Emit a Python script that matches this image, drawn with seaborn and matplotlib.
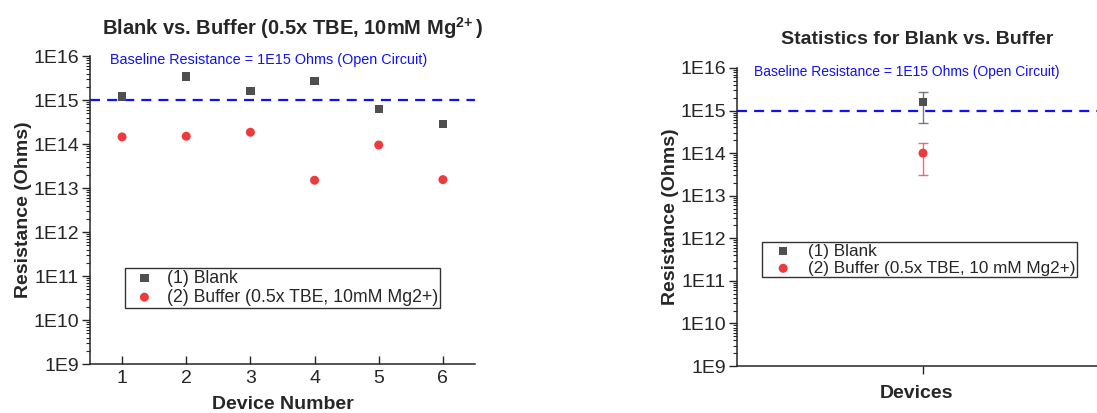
import numpy as np
import pandas as pd
import matplotlib
matplotlib.use("Agg")
import matplotlib.pyplot as plt
import matplotlib.ticker as mticker
import seaborn as sns

# values
devices = [1, 2, 3, 4, 5, 6]
blank = [1.2e15, 3.4e15, 1.6e15, 2.7e15, 6.3e14, 2.8e14]
buffer = [1.45e14, 1.5e14, 1.85e14, 1.5e13, 9.5e13, 1.55e13]

stat_labels = ["(1) Blank", "(2) Buffer (0.5x TBE, 10 mM Mg2+)"]
stat_mean = [1.6e15, 1.0e14]
stat_err = [1.1e15, 0.7e14]

baseline = 1e15
baseline_text = "Baseline Resistance = 1E15 Ohms (Open Circuit)"
y_exponents = [9, 10, 11, 12, 13, 14, 15, 16]

blank_color = "#4f4f4f"
buffer_color = "#ee3a3c"
line_blue = "#1010ff"

sns.set_style("ticks")
plt.rcParams["font.family"] = ["Liberation Sans", "DejaVu Sans"]
plt.rcParams["mathtext.fontset"] = "custom"
plt.rcParams["mathtext.rm"] = "Liberation Sans"
plt.rcParams["mathtext.bf"] = "Liberation Sans:bold"


def style_yaxis(ax):
    ax.set_yscale("log")
    ax.set_ylim(1e9, 1e16)
    major = [10.0 ** e for e in y_exponents]
    minor = [m * 10.0 ** e for e in y_exponents[:-1] for m in range(2, 10)]
    ax.yaxis.set_major_locator(mticker.FixedLocator(major))
    ax.yaxis.set_major_formatter(mticker.FixedFormatter([f"1E{e}" for e in y_exponents]))
    ax.yaxis.set_minor_locator(mticker.FixedLocator(minor))
    ax.yaxis.set_minor_formatter(mticker.NullFormatter())
    ax.tick_params(axis="y", which="major", direction="out", length=6, width=1,
                   labelsize=14, pad=2)
    ax.tick_params(axis="y", which="minor", direction="out", length=3, width=0.8)
    ax.set_ylabel("Resistance (Ohms)", fontsize=14, fontweight="bold", labelpad=1)
    for s in ["top", "right"]:
        ax.spines[s].set_visible(False)
    for s in ["left", "bottom"]:
        ax.spines[s].set_linewidth(1.1)


fig = plt.figure(figsize=(10.97, 4.13), dpi=100)
ax1 = fig.add_axes([0.082, 0.1186, 0.351, 0.7458])
ax2 = fig.add_axes([0.6718, 0.1138, 0.3282, 0.7216])

# left panel: individual devices
df = pd.DataFrame({"device": devices, "blank": blank, "buffer": buffer})
sns.scatterplot(data=df, x="device", y="blank", ax=ax1, marker="s", s=36,
                color=blank_color, edgecolor="none", label="(1) Blank", zorder=3)
sns.scatterplot(data=df, x="device", y="buffer", ax=ax1, marker="o", s=42,
                color=buffer_color, edgecolor="none",
                label="(2) Buffer (0.5x TBE, 10mM Mg2+)", zorder=3)
style_yaxis(ax1)
ax1.set_xlim(0.5, 6.5)
ax1.set_xticks(devices)
ax1.tick_params(axis="x", direction="in", length=6, width=1, labelsize=14, pad=4)
ax1.set_xlabel("Device Number", fontsize=14, fontweight="bold", labelpad=7)
ax1.axhline(baseline, color=line_blue, lw=1.6, ls=(0, (4.5, 3.2)), zorder=2)
ax1.text(0.052, 0.987, baseline_text, transform=ax1.transAxes, color=line_blue,
         fontsize=10.4, ha="left", va="center")
ax1.set_title(r"Blank vs. Buffer (0.5x TBE, 10mM Mg$^{\mathbf{2\!+}}$)",
              fontsize=14.5, fontweight="bold", pad=15, x=0.525)
leg = ax1.legend(loc="upper left", bbox_to_anchor=(0.091, 0.312), borderaxespad=0,
                 fontsize=12.7, frameon=True, fancybox=False, borderpad=0.1,
                 labelspacing=0.12, handlelength=2.0, handletextpad=0.3)
leg.get_frame().set_edgecolor("black")
leg.get_frame().set_linewidth(1)

# right panel: mean +/- sd
sdf = pd.DataFrame({"x": [0, 0], "mean": stat_mean, "err": stat_err, "label": stat_labels})
for (_, row), col, mk in zip(sdf.iterrows(), [blank_color, buffer_color], ["s", "o"]):
    ax2.errorbar(row["x"], row["mean"], yerr=row["err"], fmt="none", ecolor=col,
                 elinewidth=1, capsize=3.5, capthick=1, alpha=0.75, zorder=3)
    sns.scatterplot(x=[row["x"]], y=[row["mean"]], ax=ax2, marker=mk,
                    s=42 if mk == "o" else 36, color=col, edgecolor="none",
                    label=row["label"], zorder=4)
style_yaxis(ax2)
ax2.set_xlim(-1, 0.935)
ax2.xaxis.set_major_locator(mticker.FixedLocator([0]))
ax2.xaxis.set_major_formatter(mticker.NullFormatter())
ax2.tick_params(axis="x", direction="out", length=6, width=1)
ax2.set_xlabel("Devices", fontsize=14, fontweight="bold", labelpad=4)
ax2.axhline(baseline, color=line_blue, lw=1.6, ls=(0, (4.5, 3.2)), zorder=2)
ax2.text(0.047, 0.987, baseline_text, transform=ax2.transAxes, color=line_blue,
         fontsize=10, ha="left", va="center")
ax2.set_title("Statistics for Blank vs. Buffer", fontsize=14, fontweight="bold", pad=17)
leg2 = ax2.legend(loc="upper left", bbox_to_anchor=(0.069, 0.416), borderaxespad=0,
                  fontsize=12.3, frameon=True, fancybox=False, borderpad=0.1,
                  labelspacing=0.12, handlelength=2.3, handletextpad=0.3)
leg2.get_frame().set_edgecolor("black")
leg2.get_frame().set_linewidth(1)

fig.savefig("out.png", dpi=100)
